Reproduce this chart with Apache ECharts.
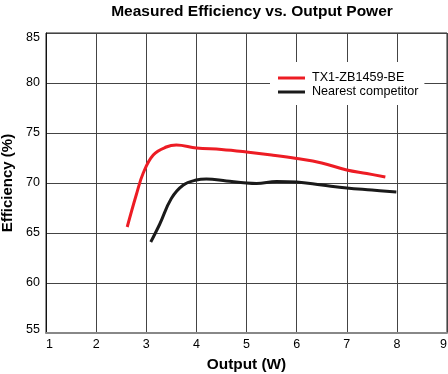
<!DOCTYPE html>
<html>
<head>
<meta charset="utf-8">
<script src="https://cdn.jsdelivr.net/npm/echarts@6/dist/echarts.min.js"></script>
<style>html,body{margin:0;padding:0;background:#fff;}#c{width:448px;height:374px;}</style>
</head>
<body>
<div id="c"></div>
<script>
const seriesNames = ['TX1-ZB1459-BE', 'Nearest competitor'];
const xTicks = [1, 2, 3, 4, 5, 6, 7, 8, 9];
const yTicks = [55, 60, 65, 70, 75, 80, 85];
const tx1Data = [[2.62,65.6],[2.8,68.8],[2.94,71.0],[3.14,72.8],[3.4,73.6],[3.6,73.8],[4.0,73.5],[4.5,73.35],[5.0,73.1],[5.5,72.8],[6.0,72.45],[6.5,72.0],[7.0,71.3],[7.4,70.95],[7.77,70.6]];
const competitorData = [[3.09,64.1],[3.27,65.9],[3.5,68.45],[3.74,69.8],[4.0,70.3],[4.2,70.4],[4.6,70.2],[5.0,70.0],[5.2,69.95],[5.6,70.15],[6.0,70.1],[6.5,69.8],[7.0,69.5],[7.5,69.3],[7.99,69.1]];

const FONT = 'Liberation Sans, Arial, sans-serif';
const yMin = yTicks[0], yMax = yTicks[yTicks.length - 1];
const chart = echarts.init(document.getElementById('c'));
chart.setOption({
  animation: false,
  backgroundColor: '#fff',
  title: {
    text: 'Measured Efficiency vs. Output Power',
    left: 247, textAlign: 'center', top: -2,
    textStyle: { fontFamily: FONT, fontWeight: 'bold', fontSize: 15.5, color: '#000', lineHeight: 17 }
  },
  legend: {
    data: seriesNames,
    orient: 'vertical',
    left: 270, top: 62,
    padding: [9, 6, 6, 8],
    itemGap: 0,
    itemWidth: 27, itemHeight: 3,
    icon: 'rect',
    backgroundColor: '#fff',
    textStyle: { fontFamily: FONT, fontSize: 12.6, color: '#000', lineHeight: 14, padding: [0, 0, 0, 2] }
  },
  grid: { left: 46, right: 1, top: 33, bottom: 41, show: true, borderColor: '#222', borderWidth: 1, outerBoundsMode: 'none', containLabel: false },
  xAxis: {
    type: 'value', min: xTicks[0], max: xTicks[xTicks.length - 1], interval: 1,
    name: 'Output (W)', nameLocation: 'middle', nameGap: 24,
    nameTextStyle: { fontFamily: FONT, fontWeight: 'bold', fontSize: 15.4, color: '#000' },
    axisLine: { show: true, lineStyle: { color: '#888', width: 2 } },
    axisTick: { show: false },
    axisLabel: { fontFamily: FONT, fontSize: 12.5, color: '#000', margin: 5, alignMinLabel: 'left', alignMaxLabel: 'right' },
    splitLine: { show: true, lineStyle: { color: '#444', width: 1 } }
  },
  yAxis: {
    type: 'value', min: yMin, max: yMax, interval: 5,
    name: 'Efficiency (%)', nameLocation: 'middle', nameGap: 28,
    nameTextStyle: { fontFamily: FONT, fontWeight: 'bold', fontSize: 15, color: '#000' },
    axisLine: { show: true, lineStyle: { color: '#111', width: 1 } },
    axisTick: { show: false },
    axisLabel: {
      fontFamily: FONT, fontSize: 12.5, color: '#000', margin: 6,
      formatter: function (v) {
        if (v === yMax) return '{t|' + v + '}';
        if (v === yMin) return '{b|' + v + '}';
        return '' + v;
      },
      rich: {
        t: { fontFamily: FONT, fontSize: 12.5, color: '#000', padding: [10, 0, 0, 0] },
        b: { fontFamily: FONT, fontSize: 12.5, color: '#000', padding: [0, 0, 6, 0] }
      }
    },
    splitLine: { show: true, lineStyle: { color: '#444', width: 1 } }
  },
  series: [
    { name: seriesNames[0], type: 'line', data: tx1Data, smooth: 0.4, symbol: 'none', color: '#ed1c24', lineStyle: { width: 3, color: '#ed1c24' }, z: 3 },
    { name: seriesNames[1], type: 'line', data: competitorData, smooth: 0.4, symbol: 'none', color: '#1a1a1a', lineStyle: { width: 3, color: '#1a1a1a' }, z: 3 }
  ]
});
</script>
</body>
</html>
